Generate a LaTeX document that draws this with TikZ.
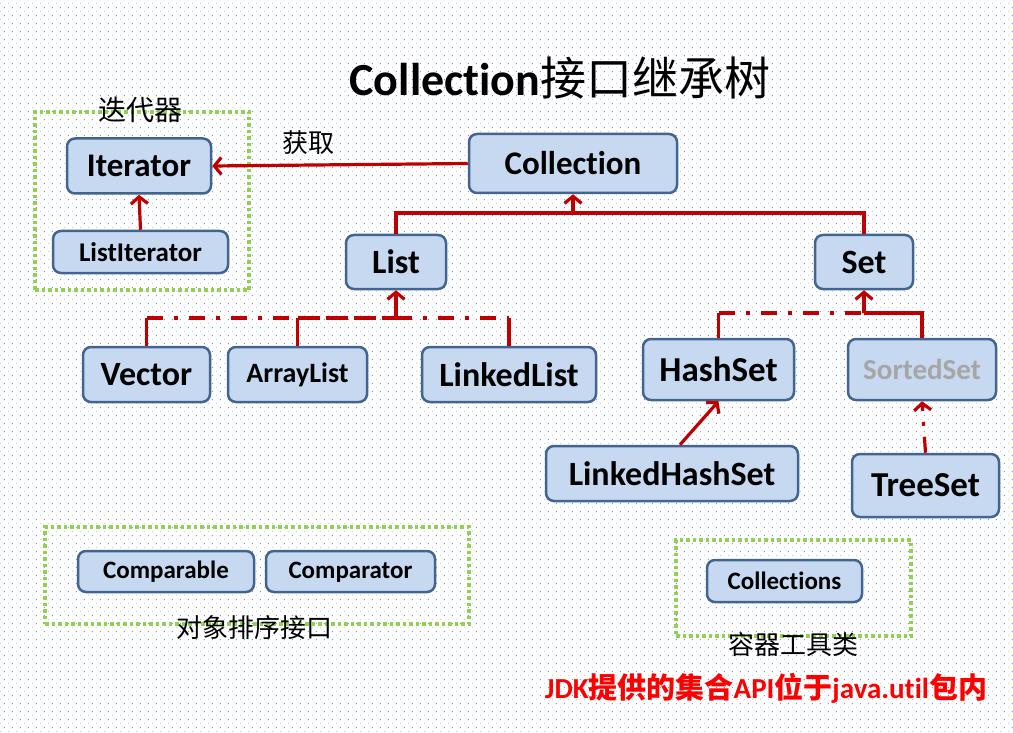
\documentclass[tikz,border=0pt]{standalone}
\usepackage{fontspec}
\setmainfont{Carlito}[Ligatures={NoCommon,NoContextual}, Contextuals={NoAlternate}]
\newfontfamily\cjk{Noto Sans CJK SC}
\usetikzlibrary{arrows.meta, positioning, patterns.meta}
\definecolor{boxblue}{RGB}{65,100,145}
\definecolor{boxfill}{RGB}{198,217,240}
\definecolor{linkred}{RGB}{192,0,0}
\definecolor{grpgreen}{RGB}{146,208,80}
\definecolor{notered}{RGB}{255,0,0}
\definecolor{greytext}{RGB}{166,166,166}
\definecolor{dotblue}{RGB}{68,114,196}
\newcommand{\fsz}[1]{\fontsize{#1}{#1}\selectfont}
\tikzdeclarepattern{
  name=bgdots, type=uncolored,
  bounding box={(0pt,0pt) and (8pt,8pt)},
  tile size={(8pt,8pt)},
  code={\fill (1.5pt,1.5pt) rectangle (2.5pt,2.5pt);
        \fill (5.5pt,5.5pt) rectangle (6.5pt,6.5pt);}
}
\tikzset{
  classbox/.style={rectangle, draw=boxblue, fill=boxfill, line width=2.5pt,
    rounded corners=8pt, inner sep=0pt},
  group/.style={rectangle, draw=grpgreen, line width=3.5pt,
    dash pattern=on 3.5pt off 3pt, inner sep=0pt},
  redarrow/.style={-{Straight Barb[length=7pt,width=17pt]}, line width=3.2pt, color=linkred},
  redline/.style={line width=3.2pt, color=linkred},
  dashdot/.style={dash pattern=on 16pt off 11pt on 4pt off 11pt},
  cnlabel/.style={font=\cjk\fsz{26}}
}

\begin{document}
\begin{tikzpicture}[x=1pt, y=-1pt]
  \useasboundingbox (0,0) rectangle (1013,733);
  \fill[pattern=bgdots, pattern color=dotblue!70] (0,0) rectangle (1013,733);

  % Title
  \node[font=\fsz{46}] (title) at (560,78) {{\bfseries Collection}{\cjk 接口继承树}};

  % Groups
  \node[group, minimum width=214pt, minimum height=178pt] (iterGroup) at (142,201) {};
  \node[group, minimum width=424pt, minimum height=97pt] (sortGroup) at (257,575.5) {};
  \node[group, minimum width=235pt, minimum height=96pt] (toolGroup) at (793.5,588) {};
  \node[cnlabel, font=\cjk\fsz{28}] (iterLabel) at (140,110) {迭代器};
  \node[cnlabel] (sortLabel) at (254,628) {对象排序接口};
  \node[cnlabel] (toolLabel) at (793,645) {容器工具类};

  % Interfaces and classes
  \node[classbox, minimum width=144pt, minimum height=55pt, font=\bfseries\fsz{33}] (Iterator) at (139,166) {Iterator};
  \node[classbox, minimum width=175pt, minimum height=42pt, font=\bfseries\fsz{27}] (ListIterator) at (140.5,252) {ListIterator};
  \node[classbox, minimum width=208pt, minimum height=59pt, font=\bfseries\fsz{33}] (Collection) at (573,163.5) {Collection};
  \node[classbox, minimum width=100pt, minimum height=54pt, font=\bfseries\fsz{34}] (List) at (396,262) {List};
  \node[classbox, minimum width=98pt, minimum height=54pt, font=\bfseries\fsz{34}] (Set) at (864,262) {Set};
  \node[classbox, minimum width=127pt, minimum height=55pt, font=\bfseries\fsz{34}] (Vector) at (146.5,374.5) {Vector};
  \node[classbox, minimum width=139pt, minimum height=55pt, font=\bfseries\fsz{28}] (ArrayList) at (297.5,374.5) {ArrayList};
  \node[classbox, minimum width=174pt, minimum height=55pt, font=\bfseries\fsz{34}] (LinkedList) at (509,374.5) {LinkedList};
  \node[classbox, minimum width=151pt, minimum height=61pt, font=\bfseries\fsz{35}] (HashSet) at (718.5,369.5) {HashSet};
  \node[classbox, minimum width=148pt, minimum height=61pt, font=\bfseries\fsz{29}, text=greytext] (SortedSet) at (922,369.5) {SortedSet};
  \node[classbox, minimum width=252pt, minimum height=55pt, font=\bfseries\fsz{34}] (LinkedHashSet) at (672,473.5) {LinkedHashSet};
  \node[classbox, minimum width=147pt, minimum height=63pt, font=\bfseries\fsz{35}] (TreeSet) at (925.5,485.5) {TreeSet};
  \node[classbox, minimum width=176pt, minimum height=41pt, font=\bfseries\fsz{25}] (Comparable) at (166,571.5) {Comparable};
  \node[classbox, minimum width=169pt, minimum height=41pt, font=\bfseries\fsz{25}] (Comparator) at (350.5,571.5) {Comparator\vphantom{b}};
  \node[classbox, minimum width=155pt, minimum height=42pt, font=\bfseries\fsz{25}] (Collections) at (784.5,581) {Collections};

  % Iterator links
  \draw[redarrow] (ListIterator.north) -- (Iterator.south);
  \draw[redarrow] (Collection.west) -- (Iterator.east);
  \node[cnlabel] (getLabel) at (308,143) {获取};

  % Collection tree
  \coordinate (topBus) at (Collection.south |- 0,213);
  \draw[redline] (List.north) |- (topBus) -| (Set.north);
  \draw[redarrow] (topBus) -- (Collection.south);

  % List implementations
  \coordinate (listBus) at (List.south |- 0,318);
  \draw[redline] (Vector.north) -- (Vector.north |- listBus);
  \draw[redline] (ArrayList.north) -- (ArrayList.north |- listBus);
  \draw[redline] (LinkedList.north) -- (LinkedList.north |- listBus);
  \draw[redline, dashdot] (Vector.north |- listBus) -- (ArrayList.north |- listBus);
  \draw[redline, dash pattern=on 22pt off 6pt] (ArrayList.north |- listBus) -- (listBus);
  \draw[redline, dashdot] (listBus) -- (LinkedList.north |- listBus);
  \draw[redarrow] (listBus) -- (List.south);

  % Set implementations
  \coordinate (setBus) at (Set.south |- 0,313);
  \draw[redline] (HashSet.north) -- (HashSet.north |- setBus);
  \draw[redline, dashdot] (HashSet.north |- setBus) -- (setBus);
  \draw[redline] (SortedSet.north) |- (setBus);
  \draw[redarrow] (setBus) -- (Set.south);
  \draw[redarrow] ([xshift=8pt]LinkedHashSet.north) -- (HashSet.south);
  \draw[redarrow, dashdot] (TreeSet.north) -- (SortedSet.south);

  % Note
  \node[font=\bfseries\fsz{29}, text=notered] (note) at (766,688) {JDK{\cjk 提供的集合}API{\cjk 位于}java.util{\cjk 包内}};
\end{tikzpicture}
\end{document}
